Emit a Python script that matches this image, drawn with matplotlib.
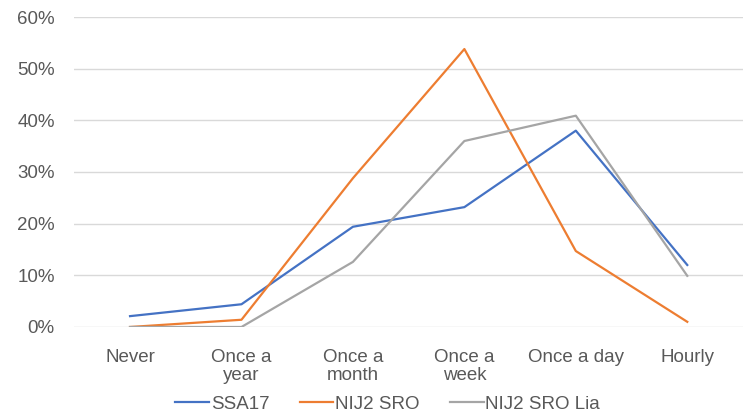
import matplotlib.pyplot as plt
from matplotlib.ticker import PercentFormatter

plt.rcParams['font.family'] = ['Liberation Sans', 'DejaVu Sans']

# Data
categories = ["Never", "Once a\nyear", "Once a\nmonth", "Once a\nweek", "Once a day", "Hourly"]
ssa17 = [2.1, 4.4, 19.4, 23.2, 38.0, 12.0]
nij2_sro = [0.0, 1.4, 28.8, 53.8, 14.7, 1.0]
nij2_sro_lia = [0.0, 0.0, 12.6, 36.0, 40.9, 9.9]

fig = plt.figure(figsize=(7.43, 4.19), dpi=100)
ax = fig.add_axes([0.1, 0.2196, 0.9, 0.7398])

x = range(len(categories))
ax.plot(x, ssa17, color='#4472C4', lw=1.6, label='SSA17')
ax.plot(x, nij2_sro, color='#ED7D31', lw=1.6, label='NIJ2 SRO')
ax.plot(x, nij2_sro_lia, color='#A5A5A5', lw=1.6, label='NIJ2 SRO Lia')

ax.set_xlim(-0.5, 5.5)
ax.set_ylim(0, 60)
ax.set_yticks([0, 10, 20, 30, 40, 50, 60])
ax.yaxis.set_major_formatter(PercentFormatter(decimals=0))
ax.set_xticks(list(x))
ax.set_xticklabels(categories, linespacing=1.05)
ax.grid(axis='y', color='#D9D9D9', lw=1)
ax.set_axisbelow(True)
for s in ax.spines.values():
    s.set_visible(False)
ax.tick_params(length=0, colors='#595959', labelsize=13.5)
ax.tick_params(axis='y', pad=14)
ax.tick_params(axis='x', pad=16)

leg = fig.legend(loc='center', bbox_to_anchor=(0.522, 0.035), ncol=3,
                 frameon=False, fontsize=13.5, handlelength=1.8, handletextpad=0.1,
                 columnspacing=1.6)
for t in leg.get_texts():
    t.set_color('#595959')

fig.savefig('out.png', dpi=100)
